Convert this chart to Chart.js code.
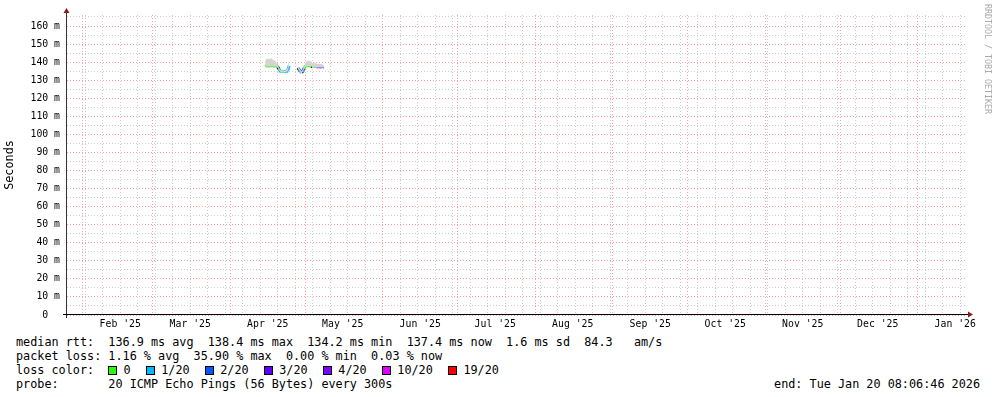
<!DOCTYPE html>
<html>
<head>
<meta charset="utf-8">
<title>Smokeping - last 360 days</title>
<script src="https://cdn.jsdelivr.net/npm/chart.js@4.4.1/dist/chart.umd.min.js"></script>
<style>
    html, body { margin: 0; padding: 0; background: #fff; }
    body { width: 997px; height: 397px; position: relative; overflow: hidden; font-family: 'DejaVu Sans Mono', monospace; color: #000; }
    #chart-box { position: absolute; left: 0; top: 0; width: 997px; height: 335px; }
    .row { position: absolute; left: 16px; font-size: 11.8px; line-height: 14px; white-space: pre; }
    .row.end { left: auto; right: 17px; }
    .sq { display: inline-block; width: 7px; height: 7px; border: 1px solid #000; margin-left: 15.3px; vertical-align: -1px; }
    .sq.first { margin-left: 14.1px; }
    .lbl { margin-left: 6.3px; }
    #credit { position: absolute; left: 983px; top: 4px; width: 10px; line-height: 10px; font-size: 8.3px; color: #aaa; writing-mode: vertical-rl; white-space: pre; }
</style>
</head>
<body>
<div id="chart-box"><canvas id="rtt-chart" width="997" height="335"></canvas></div>
<div id="credit">RRDTOOL / TOBI OETIKER</div>
<div class="row" style="top:334.5px">median rtt:  136.9 ms avg  138.4 ms max  134.2 ms min  137.4 ms now  1.6 ms sd  84.3   am/s</div>
<div class="row" style="top:348.5px">packet loss: 1.16 % avg  35.90 % max  0.00 % min  0.03 % now</div>
<div class="row" id="loss-row" style="top:362.5px">loss color:</div>
<div class="row" style="top:376.5px">probe:       20 ICMP Echo Pings (56 Bytes) every 300s</div>
<div class="row end" style="top:376.5px">end: Tue Jan 20 08:06:46 2026</div>
<script>
// x values are days since 1 Jan 2025, the window is the last 360 days
const xMin = 24.7;
const xMax = 384.7;
const yMax = 166.1;

const monthStarts = [31, 59, 90, 120, 151, 181, 212, 243, 273, 304, 334, 365];
const monthLabels = ["Feb '25", "Mar '25", "Apr '25", "May '25", "Jun '25", "Jul '25",
                     "Aug '25", "Sep '25", "Oct '25", "Nov '25", "Dec '25", "Jan '26"];
const yTickValues = [0, 5, 10, 15, 20, 25, 30, 35, 40, 45, 50, 55, 60, 65, 70, 75, 80,
                     85, 90, 95, 100, 105, 110, 115, 120, 125, 130, 135, 140, 145, 150, 155, 160, 165];

const lossLabels = ['0', '1/20', '2/20', '3/20', '4/20', '10/20', '19/20'];
const lossColors = ['#26ff00', '#00b8ff', '#0059ff', '#5e00ff', '#7e00ff', '#dd00ff', '#ff0000'];

// median rtt in ms, null = no data
const rttDays = [104, 104.5, 105, 105.5, 106, 106.5, 107, 107.5, 108, 108.5, 109, 109.5, 110, 110.5,
                 111, 111.5, 112, 112.5, 113, 113.5, 115,
                 117, 117.5, 118, 118.5, 119, 119.5, 120, 120.5, 121, 121.5, 122, 122.5, 123, 123.5,
                 124, 124.5, 125, 125.5, 126, 126.5, 127, 127.5];
const medianRtt = [137.6, 138.0, 138.0, 137.9, 138.0, 138.1, 138.0, 137.9, 138.0, 138.1, 137.2, 136.2, 135.0, 134.8,
                   134.9, 134.8, 134.7, 134.9, 135.3, 138.0, null,
                   136.8, 136.0, 134.8, 134.2, 135.0, 136.5, 137.6, 138.0, 138.0, 138.1, 137.9, 138.0, 137.2, 137.9,
                   137.7, 137.5, 137.4, 137.5, 137.3, 137.5, 137.4, 137.4];
// index into lossColors, -1 = dark
const medianLoss = [2, 0, 0, 0, 0, 0, 0, 0, 0, 0, 0, -1, 1, 1,
                    0, 0, 1, 1, 2, 1, null,
                    -1, -1, 2, 1, -1, 2, 0, 0, 0, 0, 0, 0, -1, 0,
                    0, 0, 5, 5, 4, 4, 2, 4];
const smokeTop = [140.5, 141.8, 142.0, 141.6, 141.9, 142.2, 141.4, 141.0, 140.6, 139.8, 138.0, 137.0, 135.6, 135.4,
                  135.5, 135.4, 135.3, 135.8, 137.0, 141.0, null,
                  137.6, 137.0, 135.8, 135.0, 136.0, 137.4, 139.0, 140.5, 140.8, 140.9, 140.7, 140.4, 139.0, 139.6,
                  139.5, 139.3, 139.0, 139.2, 139.0, 139.1, 138.6, 138.4];
const smokeBottom = [137.3, 137.6, 137.6, 137.5, 137.6, 137.7, 137.6, 137.5, 137.6, 137.6, 136.8, 135.7, 134.5, 134.3,
                     134.4, 134.3, 134.2, 134.4, 134.8, 137.4, null,
                     136.3, 135.4, 134.3, 133.8, 134.5, 136.0, 137.2, 137.6, 137.6, 137.7, 137.5, 137.6, 136.8, 137.5,
                     137.3, 137.1, 137.0, 137.1, 136.9, 137.1, 137.0, 137.0];

const FONT = 'DejaVu Sans Mono';
const MAJOR_GRID = 'rgba(255, 0, 0, 0.38)';
const MINOR_GRID = 'rgb(205, 205, 205)';

// loss colour legend
const lossRow = document.getElementById('loss-row');
lossLabels.forEach((label, i) => {
    const sq = document.createElement('span');
    sq.className = i === 0 ? 'sq first' : 'sq';
    sq.style.background = lossColors[i];
    const txt = document.createElement('span');
    txt.className = 'lbl';
    txt.textContent = label;
    lossRow.appendChild(sq);
    lossRow.appendChild(txt);
});

// x ticks: month boundaries (red grid), sundays (gray grid), mid month (label only)
const labelTicks = monthStarts.map(d => d + 15);
const weekTicks = [];
for (let d = 32; d < xMax; d += 7) {
    if (!monthStarts.includes(d)) weekTicks.push(d);
}
const xTicks = [
    ...monthStarts.map(v => ({ value: v, kind: 'month' })),
    ...weekTicks.map(v => ({ value: v, kind: 'week' })),
    ...labelTicks.map(v => ({ value: v, kind: 'label' }))
].sort((a, b) => a.value - b.value);

function xGridColor(tick) {
    if (!tick) return 'rgba(0,0,0,0)';
    if (tick.kind === 'month') return MAJOR_GRID;
    if (tick.kind === 'week') return MINOR_GRID;
    return 'rgba(0,0,0,0)';
}

function toPoints(xs, ys) {
    return xs.map((x, i) => ({ x: x, y: ys[i] }));
}

function lossColor(idx) {
    if (idx === -1) return '#111';
    return lossColors[idx] || lossColors[0];
}

const axisArrows = {
    id: 'axisArrows',
    afterDraw(chart) {
        const { ctx, chartArea: a } = chart;
        ctx.save();
        ctx.lineWidth = 1;
        ctx.strokeStyle = '#333';
        ctx.beginPath();
        ctx.moveTo(a.left - 0.5, a.bottom + 3);
        ctx.lineTo(a.left - 0.5, a.top - 3);
        ctx.stroke();
        ctx.strokeStyle = '#000';
        ctx.beginPath();
        ctx.moveTo(a.left - 4, a.bottom - 0.5);
        ctx.lineTo(a.right + 2, a.bottom - 0.5);
        ctx.stroke();
        ctx.fillStyle = '#8b1a1a';
        ctx.beginPath();
        ctx.moveTo(a.left - 0.5, a.top - 7);
        ctx.lineTo(a.left - 3.5, a.top - 2);
        ctx.lineTo(a.left + 2.5, a.top - 2);
        ctx.closePath();
        ctx.fill();
        ctx.beginPath();
        ctx.moveTo(a.right + 6, a.bottom - 0.5);
        ctx.lineTo(a.right + 1, a.bottom - 3.5);
        ctx.lineTo(a.right + 1, a.bottom + 2.5);
        ctx.closePath();
        ctx.fill();
        ctx.restore();
    }
};

const ctx = document.getElementById('rtt-chart').getContext('2d');
new Chart(ctx, {
    type: 'line',
    data: {
        datasets: [
            {
                label: 'smoke',
                data: toPoints(rttDays, smokeTop),
                fill: '+1',
                backgroundColor: '#d4d4d4',
                borderColor: 'rgba(0,0,0,0)',
                borderWidth: 0,
                pointRadius: 0,
                spanGaps: false
            },
            {
                label: 'smoke low',
                data: toPoints(rttDays, smokeBottom),
                fill: false,
                borderColor: 'rgba(0,0,0,0)',
                borderWidth: 0,
                pointRadius: 0,
                spanGaps: false
            },
            {
                label: 'median rtt',
                data: toPoints(rttDays, medianRtt),
                fill: false,
                borderColor: lossColors[0],
                borderWidth: 3,
                pointRadius: 0,
                spanGaps: false,
                segment: {
                    borderColor: c => lossColor(medianLoss[c.p1DataIndex])
                }
            }
        ]
    },
    options: {
        responsive: false,
        animation: false,
        devicePixelRatio: 1,
        layout: { padding: { left: 0, right: 30, top: 15, bottom: 0 } },
        plugins: {
            legend: { display: false },
            tooltip: { enabled: false }
        },
        scales: {
            x: {
                type: 'linear',
                min: xMin,
                max: xMax,
                afterBuildTicks: scale => { scale.ticks = xTicks.map(t => ({ value: t.value, kind: t.kind })); },
                afterFit: scale => { scale.height = 20; },
                grid: {
                    color: c => xGridColor(c.tick),
                    lineWidth: 1,
                    drawTicks: false
                },
                border: { display: false, dash: [1, 2] },
                ticks: {
                    autoSkip: false,
                    maxRotation: 0,
                    minRotation: 0,
                    padding: 4,
                    color: '#000',
                    font: { family: FONT, size: 9.8 },
                    callback: (v, i, ticks) => {
                        if (!ticks[i] || ticks[i].kind !== 'label') return '';
                        return monthLabels[labelTicks.indexOf(v)];
                    }
                }
            },
            y: {
                type: 'linear',
                min: 0,
                max: yMax,
                afterBuildTicks: scale => { scale.ticks = yTickValues.map(v => ({ value: v })); },
                afterFit: scale => { scale.width = 67; },
                grid: {
                    color: c => (c.tick && c.tick.value % 10 === 0 ? MAJOR_GRID : MINOR_GRID),
                    lineWidth: 1,
                    drawTicks: false
                },
                border: { display: false, dash: [1, 2] },
                ticks: {
                    autoSkip: false,
                    padding: 7,
                    color: '#000',
                    font: { family: FONT, size: 9.8 },
                    callback: v => (v % 10 !== 0 ? '' : (v === 0 ? '0  ' : v + ' m'))
                },
                title: {
                    display: true,
                    text: 'Seconds',
                    color: '#000',
                    font: { family: FONT, size: 11.8 },
                    padding: { top: 3, bottom: 0 }
                }
            }
        }
    },
    plugins: [axisArrows]
});
</script>
</body>
</html>
